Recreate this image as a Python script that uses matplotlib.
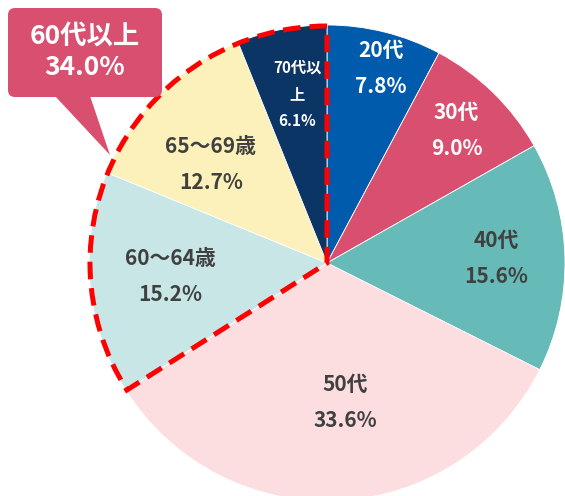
import matplotlib.pyplot as plt
from matplotlib.patches import Wedge, FancyBboxPatch, Polygon
import numpy as np

plt.rcParams['font.family'] = ['Noto Sans CJK JP', 'DejaVu Sans']

# data
labels = ['20代', '30代', '40代', '50代', '60～64歳', '65～69歳', '70代以\n上']
shares = [7.8, 9.0, 15.6, 33.6, 15.2, 12.7, 6.1]
callout_label = '60代以上'
callout_value = 34.0

colors = ['#005BAC', '#D94F70', '#66BAB7', '#FCDEE1', '#C8E6E6', '#FDF1BB', '#0B3564']
text_colors = ['white', 'white', '#404040', '#404040', '#404040', '#404040', 'white']
dist = [0.85, 0.78, 0.71, 0.59, 0.66, 0.64, 0.72]
ang_off = [-1.5, 0, 0, 4.5, 0, 4.8, -1]
fsizes = [15, 15, 15, 15, 15, 15, 11]

W, H = 565, 496
fig = plt.figure(figsize=(W / 100, H / 100), dpi=100)
ax = fig.add_axes([0, 0, 1, 1])

cx, cy, R = 327, H - 263, 238
wedges, _ = ax.pie(shares, colors=colors, startangle=90, counterclock=False,
                   center=(cx, cy), radius=R,
                   wedgeprops=dict(edgecolor='white', linewidth=0.6))

for i, w in enumerate(wedges):
    mid = np.deg2rad((w.theta1 + w.theta2) / 2 + ang_off[i])
    x = cx + dist[i] * R * np.cos(mid)
    y = cy + dist[i] * R * np.sin(mid)
    ax.text(x, y, f'{labels[i]}\n{shares[i]:.1f}%', ha='center', va='center',
            color=text_colors[i], fontsize=fsizes[i], fontweight='bold',
            linespacing=1.9 if i < 6 else 1.85)

# dashed outline around 60+ slices
th1 = min(w.theta1 for w in wedges[4:])
th2 = max(w.theta2 for w in wedges[4:])
ax.add_patch(Wedge((cx, cy), R - 1, th1, th2, fill=False, edgecolor='#FF0000',
                   linewidth=3.6, linestyle=(0, (3.5, 1.8)), zorder=5))

# callout
ccol = '#D94F70'
ax.add_patch(FancyBboxPatch((8, H - 97), 154, 89,
                            boxstyle='round,pad=0,rounding_size=7',
                            facecolor=ccol, edgecolor='none', zorder=6))
ax.add_patch(Polygon([(55, H - 96), (90, H - 96), (110, H - 155)],
                     closed=True, facecolor=ccol, edgecolor='none', zorder=6))
ax.text(85, H - 52, f'{callout_label}\n{callout_value:.1f}%', ha='center', va='center',
        color='white', fontsize=19, fontweight='bold', linespacing=1.2, zorder=7)

ax.set_xlim(0, W)
ax.set_ylim(0, H)
ax.axis('off')
fig.savefig('out.png', dpi=100)
